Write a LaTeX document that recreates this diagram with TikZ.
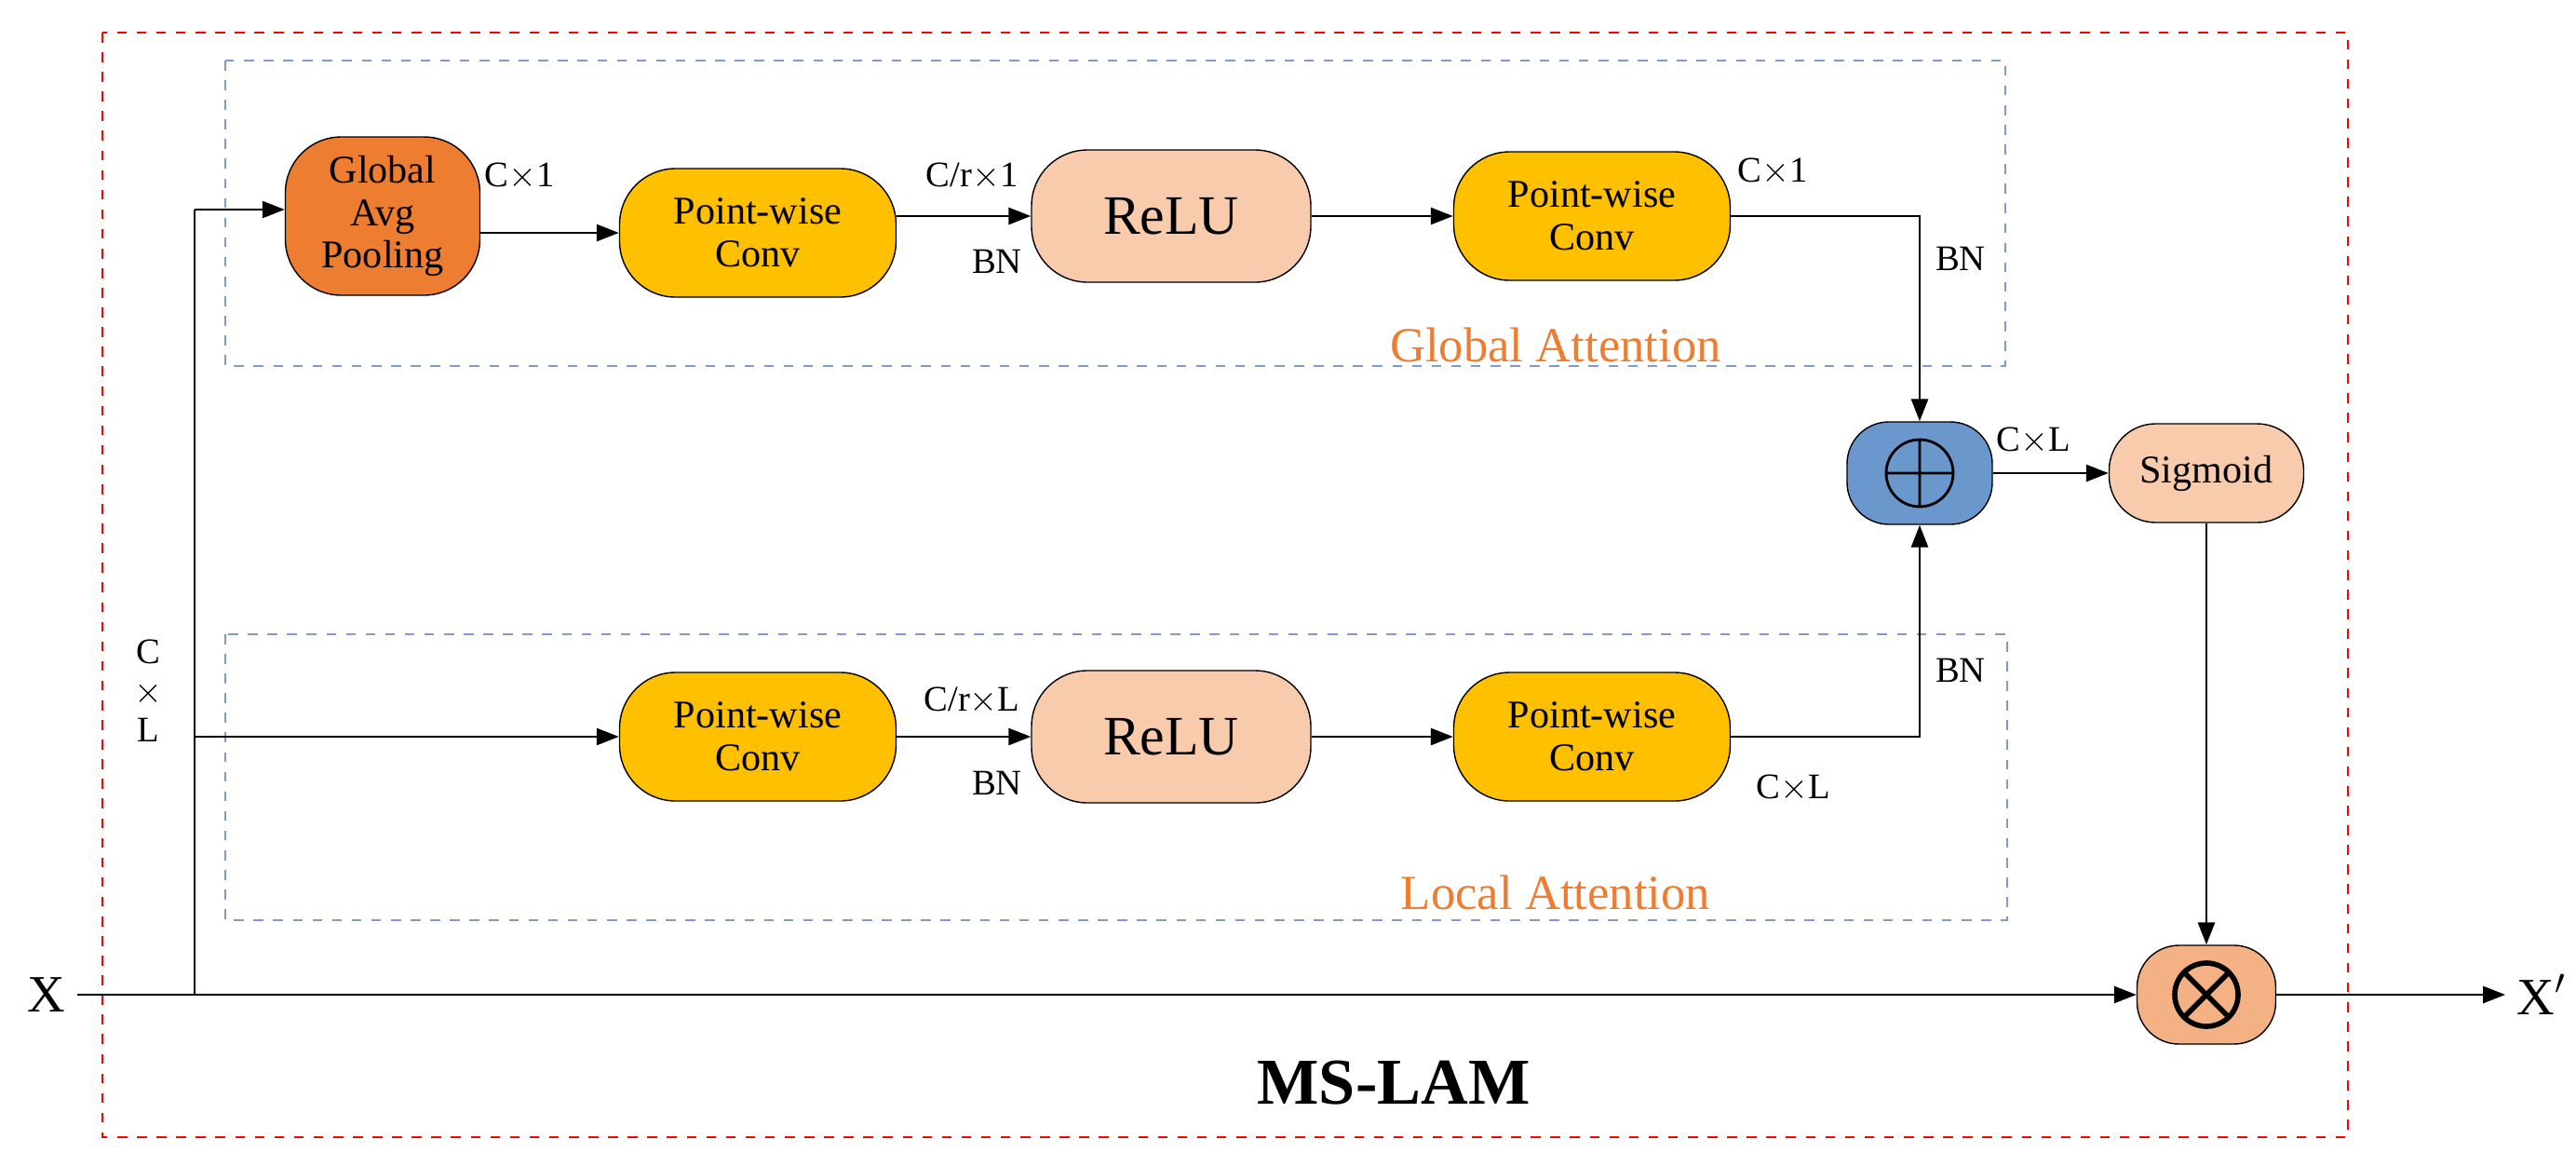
\documentclass[tikz,border=0pt]{standalone}
\usepackage{fontspec}
\setmainfont{Liberation Serif}
\usetikzlibrary{positioning, arrows.meta}
\definecolor{gapc}{HTML}{ED7D31}
\definecolor{pwc}{HTML}{FFC000}
\definecolor{reluc}{HTML}{F8CBAD}
\definecolor{addc}{HTML}{6A98CC}
\definecolor{mulc}{HTML}{F4B183}
\definecolor{attc}{HTML}{ED7D31}
\definecolor{boxc}{HTML}{7F9BCB}
\begin{document}
\begin{tikzpicture}[x=1cm, y=-1cm,
        B/.style = {draw, black, rounded corners=0.6cm, align=center, inner sep=2pt},
        PW/.style = {B, fill=pwc, minimum width=2.97cm, minimum height=1.38cm, font=\fontsize{12}{13}\selectfont},
        R/.style = {B, fill=reluc, minimum width=3cm, minimum height=1.42cm, font=\fontsize{17}{18}\selectfont},
        lbl/.style = {font=\fontsize{11}{12}\selectfont},
        att/.style = {attc, font=\fontsize{15}{16}\selectfont},
        arrow/.style = {-{Triangle[length=2.4mm, width=1.8mm]}, thick}
    ]
        \useasboundingbox (0,0) rectangle (27.67,12.52);
        \draw[red, dashed, thick] (1.10,0.35) rectangle (25.22,12.21);
        \draw[boxc, dashed, thick] (2.42,0.65) rectangle (21.54,3.93);
        \draw[boxc, dashed, thick] (2.42,6.81) rectangle (21.56,9.88);
        \node[B, fill=gapc, minimum width=2.09cm, minimum height=1.70cm, font=\fontsize{12}{13}\selectfont] (gap) at (4.11,2.32) {Global\\Avg\\Pooling};
        \node[PW] (pwa) at (8.14,2.50) {Point-wise\\Conv};
        \node[R] (relua) at (12.58,2.32) {ReLU};
        \node[PW] (pwb) at (17.10,2.32) {Point-wise\\Conv};
        \node[PW] (pwc) at (8.14,7.91) {Point-wise\\Conv};
        \node[R] (relub) at (12.58,7.91) {ReLU};
        \node[PW] (pwd) at (17.10,7.91) {Point-wise\\Conv};
        \node[B, fill=addc, minimum width=1.56cm, minimum height=1.10cm, rounded corners=0.45cm] (add) at (20.62,5.08) {};
        \draw[thick] (add) circle (0.36) (add.center) ++(-0.36,0) -- ++(0.72,0) (add.center) ++(0,-0.36) -- ++(0,0.72);
        \node[B, fill=reluc, minimum width=2.09cm, minimum height=1.06cm, rounded corners=0.5cm, font=\fontsize{12}{13}\selectfont] (sig) at (23.70,5.08) {Sigmoid};
        \node[B, fill=mulc, minimum width=1.49cm, minimum height=1.06cm, rounded corners=0.45cm] (mul) at (23.70,10.68) {};
        \draw[line width=1.6pt] (mul) circle (0.34) (mul.center) ++(-0.24,-0.24) -- ++(0.48,0.48) (mul.center) ++(-0.24,0.24) -- ++(0.48,-0.48);
        \node[font=\fontsize{16}{16}\selectfont] (x) at (0.50,10.68) {X};
        \node[font=\fontsize{16}{16}\selectfont] (xo) at (27.30,10.68) {X$'$};
        \coordinate (br) at (2.09,10.68);
        \coordinate (brt) at (2.09,2.25);
        \coordinate (brl) at (2.09,7.91);
        \coordinate (ca) at (20.62,2.32);
        \coordinate (cb) at (20.62,7.91);
        \draw[thick] (x) -- (br);
        \draw[arrow] (br) -- (mul);
        \draw[thick] (br) -- (brt);
        \draw[arrow] (brt) -- (gap.west |- brt);
        \draw[arrow] (brl) -- (pwc);
        \draw[arrow] (gap.east |- pwa) -- (pwa);
        \draw[arrow] (pwa.east |- relua) -- (relua);
        \draw[arrow] (relua) -- (pwb);
        \draw[arrow] (pwb) -- (ca) -- (add);
        \draw[arrow] (pwc) -- (relub);
        \draw[arrow] (relub) -- (pwd);
        \draw[arrow] (pwd) -- (cb) -- (add);
        \draw[arrow] (add) -- (sig);
        \draw[arrow] (sig) -- (mul);
        \draw[arrow] (mul) -- (xo);
        % labels
        \node[lbl] at (5.58,1.89) {C$\times$1};
        \node[lbl] at (10.44,1.89) {C/r$\times$1};
        \node[lbl] at (10.71,2.81) {BN};
        \node[lbl] at (19.04,1.84) {C$\times$1};
        \node[lbl] at (21.06,2.78) {BN};
        \node[att] at (16.71,3.70) {Global Attention};
        \node[lbl] at (21.84,4.73) {C$\times$L};
        \node[lbl] at (10.44,7.52) {C/r$\times$L};
        \node[lbl] at (10.71,8.41) {BN};
        \node[lbl] at (19.26,8.46) {C$\times$L};
        \node[lbl] at (21.06,7.20) {BN};
        \node[att] at (16.71,9.58) {Local Attention};
        \node[lbl, align=center] at (1.59,7.42) {C\\$\times$\\L};
        \node[font=\fontsize{20}{20}\selectfont\bfseries] at (14.97,11.63) {MS-LAM};
    \end{tikzpicture}
\end{document}
